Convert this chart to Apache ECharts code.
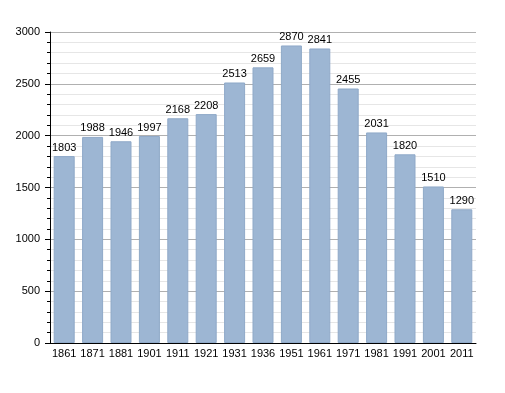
<!DOCTYPE html>
<html><head><meta charset="utf-8">
<script src="https://cdn.jsdelivr.net/npm/echarts@6/dist/echarts.min.js"></script>
<style>html,body{margin:0;padding:0;background:#fff}#c{width:505px;height:393px}</style>
</head><body><div id="c"></div>
<script>
const categories = ['1861','1871','1881','1901','1911','1921','1931','1936','1951','1961','1971','1981','1991','2001','2011'];
const population = [1803,1988,1946,1997,2168,2208,2513,2659,2870,2841,2455,2031,1820,1510,1290];
const yTicks = [0,500,1000,1500,2000,2500,3000];

const chart = echarts.init(document.getElementById('c'), null, {renderer:'canvas'});
chart.setOption({
  animation:false,
  backgroundColor:'#fff',
  grid:{left:50,right:29,top:32,bottom:50},
  xAxis:{
    type:'category', data:categories,
    axisLine:{lineStyle:{color:'#000',width:1}},
    axisTick:{show:false},
    axisLabel:{interval:0,color:'#000',fontSize:11,fontFamily:'Liberation Sans, Arial, sans-serif',margin:5}
  },
  yAxis:{
    type:'value', min:yTicks[0], max:yTicks[yTicks.length-1], interval:500,
    axisLine:{show:true,lineStyle:{color:'#000',width:1}},
    axisTick:{show:true,length:5,lineStyle:{color:'#000'}},
    minorTick:{show:true,splitNumber:5,length:3,lineStyle:{color:'#000'}},
    splitLine:{show:true,lineStyle:{color:'#b0b0b0',width:1}},
    minorSplitLine:{show:true,lineStyle:{color:'#e6e6e6',width:1}},
    axisLabel:{formatter:v=>String(v),color:'#000',fontSize:11,fontFamily:'Liberation Sans, Arial, sans-serif',margin:10}
  },
  series:[{
    type:'bar', data:population, barWidth:21,
    itemStyle:{color:'#9db6d3',borderColor:'#8fa9c8',borderWidth:1},
    label:{show:true,position:'top',distance:3,color:'#000',fontSize:11,fontFamily:'Liberation Sans, Arial, sans-serif'}
  }]
});
</script></body></html>
